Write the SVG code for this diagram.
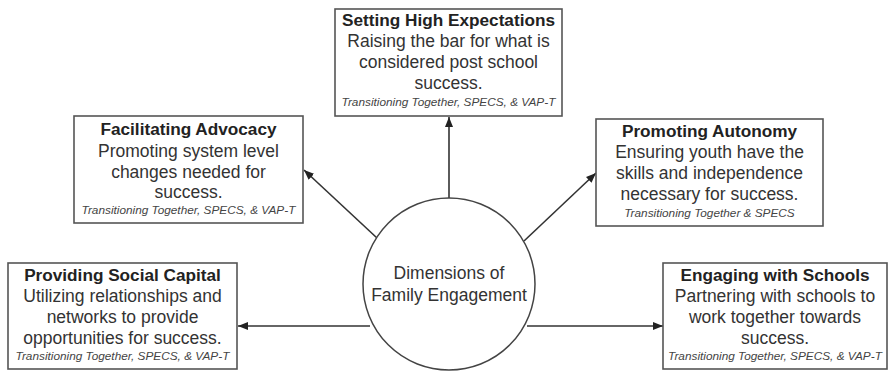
<svg xmlns="http://www.w3.org/2000/svg" width="889" height="371" viewBox="0 0 889 371">
<defs>
<marker id="ah" markerWidth="10" markerHeight="8" refX="10" refY="4" orient="auto" markerUnits="userSpaceOnUse">
<path d="M0,0 L10,4 L0,8 Z" fill="#222"/>
</marker>
<style>
.box{fill:#fff;stroke:#555;stroke-width:1.6}
.t{font-family:"Liberation Sans",Arial,sans-serif;text-anchor:middle}
.h{font-size:17.2px;font-weight:bold;fill:#222}
.b{font-size:17.5px;fill:#333}
.i{font-size:11.8px;font-style:italic;fill:#444}
.c{fill:#fff;stroke:#444;stroke-width:1.5}
.e{stroke:#333;stroke-width:1.6;fill:none;marker-end:url(#ah)}
</style>
</defs>
<rect width="889" height="371" fill="#fff"/>
<g id="connectors">
<line class="e" x1="449" y1="198" x2="449" y2="117"/>
<line class="e" x1="377" y1="238" x2="304" y2="170"/>
<line class="e" x1="524" y1="241" x2="596" y2="173"/>
<line class="e" x1="370" y1="326" x2="238" y2="326"/>
<line class="e" x1="527" y1="326" x2="663" y2="326"/>
</g>
<g id="center">
<circle class="c" cx="449" cy="284" r="86"/>
<text class="t b" x="449" y="279">Dimensions of</text>
<text class="t b" x="449" y="301">Family Engagement</text>
</g>
<g id="setting-high-expectations">
<rect class="box" x="335" y="9" width="227" height="107"/>
<text class="t h" x="448.5" y="26">Setting High Expectations</text>
<text class="t b" x="448.5" y="47">Raising the bar for what is</text>
<text class="t b" x="448.5" y="68">considered post school</text>
<text class="t b" x="448.5" y="89">success.</text>
<text class="t i" x="448.5" y="106">Transitioning Together, SPECS, &amp; VAP-T</text>
</g>
<g id="facilitating-advocacy">
<rect class="box" x="74" y="116" width="229" height="107"/>
<text class="t h" x="188.5" y="135">Facilitating Advocacy</text>
<text class="t b" x="188.5" y="157">Promoting system level</text>
<text class="t b" x="188.5" y="178">changes needed for</text>
<text class="t b" x="188.5" y="198">success.</text>
<text class="t i" x="188.5" y="214">Transitioning Together, SPECS, &amp; VAP-T</text>
</g>
<g id="promoting-autonomy">
<rect class="box" x="596" y="119" width="227" height="107"/>
<text class="t h" x="709.5" y="137">Promoting Autonomy</text>
<text class="t b" x="709.5" y="158">Ensuring youth have the</text>
<text class="t b" x="709.5" y="179">skills and independence</text>
<text class="t b" x="709.5" y="200">necessary for success.</text>
<text class="t i" x="709.5" y="217">Transitioning Together &amp; SPECS</text>
</g>
<g id="providing-social-capital">
<rect class="box" x="8" y="263" width="229" height="106"/>
<text class="t h" x="122.5" y="281">Providing Social Capital</text>
<text class="t b" x="122.5" y="302">Utilizing relationships and</text>
<text class="t b" x="122.5" y="323">networks to provide</text>
<text class="t b" x="122.5" y="344">opportunities for success.</text>
<text class="t i" x="122.5" y="360">Transitioning Together, SPECS, &amp; VAP-T</text>
</g>
<g id="engaging-with-schools">
<rect class="box" x="663" y="263" width="224" height="106"/>
<text class="t h" x="775" y="281">Engaging with Schools</text>
<text class="t b" x="775" y="302">Partnering with schools to</text>
<text class="t b" x="775" y="323">work together towards</text>
<text class="t b" x="775" y="344">success.</text>
<text class="t i" x="775" y="360">Transitioning Together, SPECS, &amp; VAP-T</text>
</g>
</svg>
